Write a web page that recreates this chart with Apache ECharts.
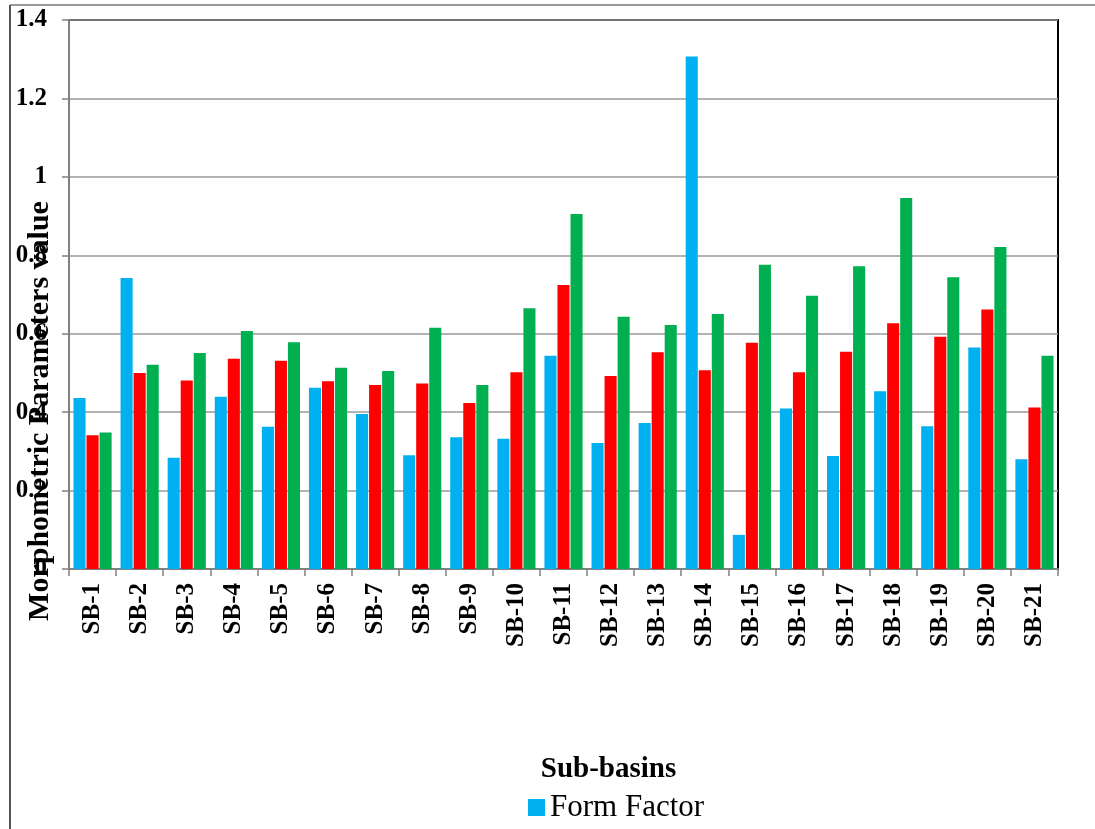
<!DOCTYPE html>
<html>
<head>
<meta charset="utf-8">
<script src="https://cdn.jsdelivr.net/npm/echarts@6/dist/echarts.min.js"></script>
<style>
  html, body { margin: 0; padding: 0; background: #fff; }
  #chart { width: 1095px; height: 829px; }
</style>
</head>
<body>
<div id="chart"></div>
<script>
// Sub-basin morphometric parameters
const categories = ['SB-1','SB-2','SB-3','SB-4','SB-5','SB-6','SB-7','SB-8','SB-9','SB-10',
  'SB-11','SB-12','SB-13','SB-14','SB-15','SB-16','SB-17','SB-18','SB-19','SB-20','SB-21'];
const formFactor = [0.436,0.742,0.284,0.439,0.363,0.462,0.395,0.290,0.336,0.332,
  0.544,0.321,0.372,1.307,0.087,0.409,0.288,0.453,0.364,0.565,0.280];
const circularityRatio = [0.341,0.500,0.481,0.536,0.531,0.479,0.469,0.473,0.423,0.502,
  0.724,0.492,0.553,0.507,0.577,0.502,0.554,0.627,0.592,0.662,0.412];
const elongationRatio = [0.348,0.521,0.551,0.607,0.578,0.513,0.505,0.615,0.469,0.665,
  0.905,0.643,0.622,0.650,0.776,0.697,0.772,0.946,0.744,0.821,0.544];
const yTicks = { min: 0, max: 1.4, interval: 0.2 };
const yTitle = 'Morphometric Parameters value';

const serif = "'Liberation Serif', 'Times New Roman', serif";
const chart = echarts.init(document.getElementById('chart'), null, { renderer: 'canvas' });

const barSeries = (name, data, color) => ({
  name, type: 'bar', data,
  itemStyle: { color },
  barGap: '8%', barCategoryGap: '19%',
  animation: false
});

chart.setOption({
  backgroundColor: '#fff',
  animation: false,
  grid: {
    left: 69, right: 37, top: 20, bottom: 260,
    containLabel: false, outerBoundsMode: 'none',
    show: true, borderColor: '#000', borderWidth: 2, backgroundColor: 'transparent'
  },
  legend: {
    data: ['Form Factor'],
    left: 523, top: 787,
    icon: 'rect', itemWidth: 17, itemHeight: 17, itemGap: 8,
    textStyle: { fontFamily: serif, fontSize: 31, color: '#000' }
  },
  xAxis: {
    type: 'category', data: categories,
    name: 'Sub-basins', nameLocation: 'middle', nameGap: 186,
    nameTextStyle: { fontFamily: serif, fontSize: 29, fontWeight: 'bold', color: '#000', padding: [0, 0, 0, 90] },
    axisLine: { lineStyle: { color: '#808080', width: 2 } },
    axisTick: { show: true, length: 7, lineStyle: { color: '#808080', width: 1.5 } },
    axisLabel: { rotate: 90, margin: 14, fontFamily: serif, fontSize: 25, fontWeight: 'bold', color: '#000', interval: 0 }
  },
  yAxis: {
    type: 'value', min: yTicks.min, max: yTicks.max, interval: yTicks.interval,
    axisLine: { show: true, lineStyle: { color: '#808080', width: 2 } },
    axisTick: { show: true, length: 7, lineStyle: { color: '#808080', width: 1.5 } },
    splitLine: { lineStyle: { color: '#9a9a9a', width: 1.5 } },
    axisLabel: {
      margin: 22, fontFamily: serif, fontSize: 25, fontWeight: 'bold', color: '#000',
      formatter: v => String(+v.toFixed(1))
    }
  },
  graphic: [
    { type: 'line', shape: { x1: 10, y1: 5, x2: 1095, y2: 5 }, style: { stroke: '#777', lineWidth: 1.5 } },
    { type: 'line', shape: { x1: 10, y1: 5, x2: 10, y2: 829 }, style: { stroke: '#555', lineWidth: 2 } },
    // vertical axis title, drawn over the tick labels
    {
      type: 'text', x: 40, y: 411, rotation: Math.PI / 2, z: 100,
      style: {
        text: yTitle, fill: '#000', align: 'center', verticalAlign: 'middle',
        font: "bold 30px 'Liberation Serif', 'Times New Roman', serif"
      }
    }
  ],
  series: [
    barSeries('Form Factor', formFactor, '#00B0F0'),
    barSeries('Circularity Ratio', circularityRatio, '#FF0000'),
    barSeries('Elongation Ratio', elongationRatio, '#00B050')
  ]
});
</script>
</body>
</html>
